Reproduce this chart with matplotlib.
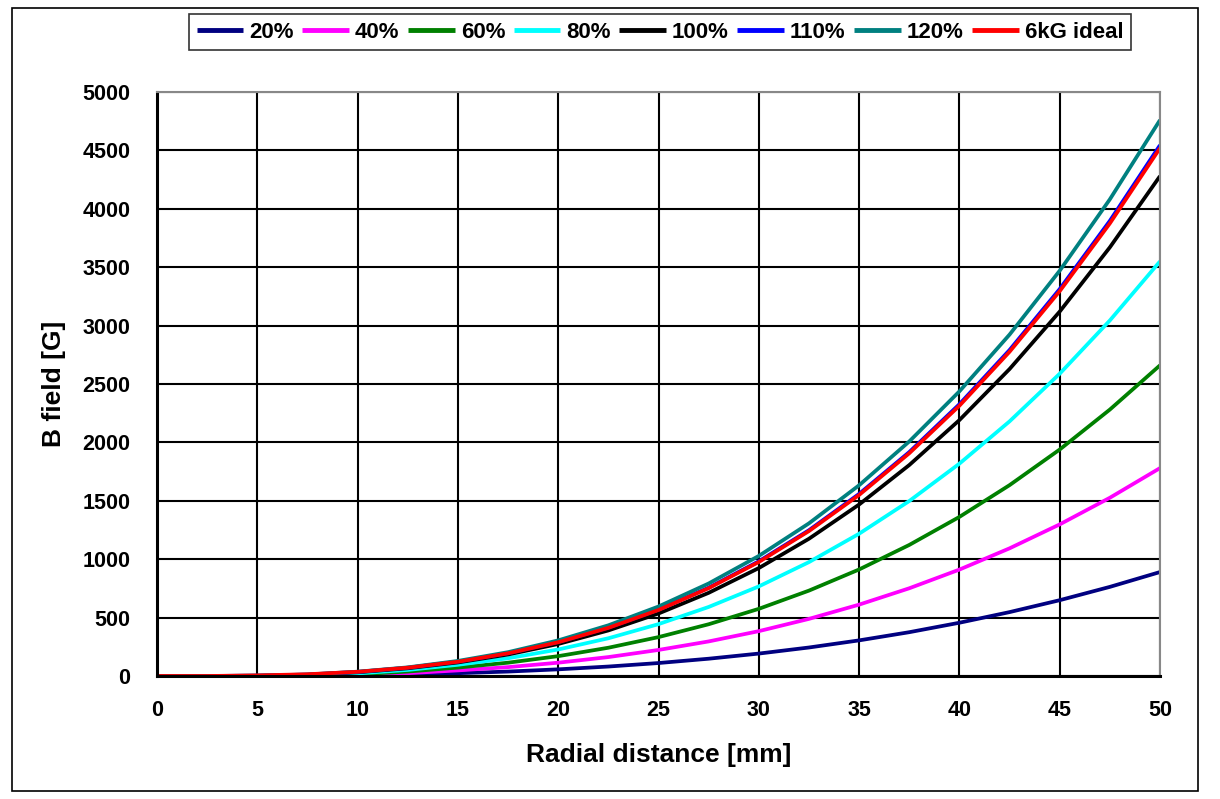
import numpy as np
import matplotlib.pyplot as plt
from matplotlib.patches import Rectangle

plt.rcParams['font.family'] = ['Liberation Sans', 'DejaVu Sans']
plt.rcParams['font.weight'] = 'bold'

r = [0, 2.5, 5, 7.5, 10, 12.5, 15, 17.5, 20, 22.5, 25, 27.5, 30, 32.5, 35,
     37.5, 40, 42.5, 45, 47.5, 50]

b20 = [0, 0, 0, 0, 0, 10, 24, 38, 57, 81, 111, 148, 192, 244, 305, 375, 456, 547, 649, 763, 890]
b40 = [0, 0, 0, 0, 8, 24, 48, 76, 114, 162, 223, 296, 384, 489, 611, 751, 911, 1093, 1298, 1526, 1780]
b60 = [0, 0, 0, 0, 14, 38, 72, 114, 170, 242, 333, 443, 575, 731, 912, 1122, 1362, 1634, 1939, 2281, 2660]
b80 = [0, 0, 0, 5, 22, 52, 96, 152, 227, 323, 444, 591, 767, 975, 1218, 1498, 1818, 2180, 2588, 3044, 3550]
b100 = [0, 0, 2, 10, 32, 66, 116, 184, 274, 390, 535, 712, 924, 1175, 1468, 1806, 2191, 2628, 3120, 3670, 4280]
b110 = [0, 0, 3, 12, 35, 71, 123, 195, 291, 414, 568, 756, 982, 1248, 1559, 1917, 2327, 2791, 3313, 3897, 4545]
b120 = [0, 0, 3, 13, 37, 74, 129, 204, 305, 434, 595, 792, 1028, 1307, 1633, 2008, 2437, 2923, 3470, 4081, 4760]
ideal = [0, 0, 5, 15, 36, 71, 122, 194, 289, 412, 565, 752, 976, 1241, 1550, 1907, 2314, 2776, 3295, 3875, 4520]

series = [b20, b40, b60, b80, b100, b110, b120, ideal]
labels = ['20%', '40%', '60%', '80%', '100%', '110%', '120%', '6kG ideal']
colors = ['#000080', '#ff00ff', '#008000', '#00ffff', '#000000', '#0000ff', '#008080', '#ff0000']

fig = plt.figure(figsize=(12.2, 7.99), dpi=100)
ax = fig.add_axes([157/1220, 1-676/799, (1160-157)/1220, (676-92)/799])

for ys, lab, c in zip(series, labels, colors):
    ax.plot(r, ys, color=c, lw=2.7, label=lab, solid_capstyle='butt')

ax.set_xlim(0, 50)
ax.set_ylim(0, 5000)
ax.set_xticks(np.arange(0, 51, 5))
ax.set_yticks(np.arange(0, 5001, 500))
ax.grid(True, color='black', lw=1.5)
ax.set_axisbelow(True)
ax.tick_params(axis='x', labelsize=15.5, length=0, pad=17)
ax.tick_params(axis='y', labelsize=15.5, length=0, pad=19)
for lab in ax.get_xticklabels() + ax.get_yticklabels():
    lab.set_fontweight('bold')
for s in ['left', 'bottom']:
    ax.spines[s].set_color('black')
    ax.spines[s].set_linewidth(2.2)
for s in ['top', 'right']:
    ax.spines[s].set_color('#888888')
    ax.spines[s].set_linewidth(1.5)

ax.set_xlabel('Radial distance [mm]', fontsize=19, fontweight='bold', labelpad=16)
ax.set_ylabel('B field [G]', fontsize=19, fontweight='bold', labelpad=12)

leg = fig.legend(loc='center', bbox_to_anchor=(660/1220, 1-32/799), ncol=8,
                 fontsize=16, frameon=True, fancybox=False, handlelength=2.1,
                 handletextpad=0.27, columnspacing=0.38, borderpad=0.35,
                 borderaxespad=0)
leg.get_frame().set_edgecolor('black')
leg.get_frame().set_linewidth(1.2)
for line in leg.get_lines():
    line.set_linewidth(3.5)
for t in leg.get_texts():
    t.set_fontweight('bold')

fig.patches.append(Rectangle((12/1220, 1-791/799), (1198-12)/1220, (791-8)/799,
                             transform=fig.transFigure, fill=False,
                             edgecolor='black', lw=1.2))

fig.savefig('out.png', dpi=100)
